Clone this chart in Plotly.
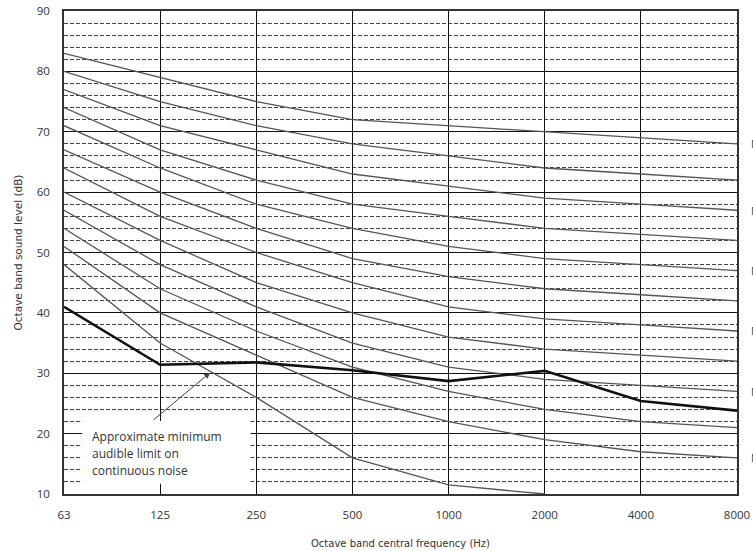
import plotly.graph_objects as go

freq_labels = ["63", "125", "250", "500", "1000", "2000", "4000", "8000"]

nc70 = [83, 79, 75, 72, 71, 70, 69, 68]
nc65 = [80, 75, 71, 68, 66, 64, 63, 62]
nc60 = [77, 71, 67, 63, 61, 59, 58, 57]
nc55 = [74, 67, 62, 58, 56, 54, 53, 52]
nc50 = [71, 64, 58, 54, 51, 49, 48, 47]
nc45 = [67, 60, 54, 49, 46, 44, 43, 42]
nc40 = [64, 56, 50, 45, 41, 39, 38, 37]
nc35 = [60, 52, 45, 40, 36, 34, 33, 32]
nc30 = [57, 48, 41, 35, 31, 29, 28, 27]
nc25 = [54, 44, 37, 31, 27, 24, 22, 21]
nc20 = [51, 40, 33, 26, 22, 19, 17, 16]
lowest = [48, 35, 26, 16, 11.5, 10]

audible_limit = [41, 31.4, 31.8, 30.5, 28.7, 30.4, 25.4, 23.8]

curve_labels = ["NC 70", "NC 60", "NC 50", "NC 40", "NC 30", "NC 20"]
curve_label_values = [nc70[-1], nc60[-1], nc50[-1], nc40[-1], nc30[-1], nc20[-1]]

curves = [nc70, nc65, nc60, nc55, nc50, nc45, nc40, nc35, nc30, nc25, nc20, lowest]

fig = go.Figure()
xi = list(range(len(freq_labels)))
for c in curves:
    fig.add_trace(go.Scatter(x=xi[:len(c)], y=c, mode="lines",
                             line=dict(color="#555555", width=1.3),
                             showlegend=False, hoverinfo="skip"))
fig.add_trace(go.Scatter(x=xi, y=audible_limit, mode="lines",
                         line=dict(color="#111111", width=2.6),
                         showlegend=False, hoverinfo="skip"))

# white box behind the note
fig.add_shape(type="rect", xref="x", yref="y", x0=0.19, x1=1.94, y0=11.7, y1=22.1,
              fillcolor="white", line=dict(width=0), layer="above")

note_lines = ["Approximate minimum", "audible limit on", "continuous noise"]
note_y = [19.47, 16.66, 13.84]
for t, yv in zip(note_lines, note_y):
    fig.add_annotation(x=0.27, y=yv, xref="x", yref="y", text=t, showarrow=False,
                       xanchor="left", yanchor="middle",
                       font=dict(family="Open Sans", size=12, color="#333333"))

fig.add_annotation(x=1.52, y=30.1, ax=0.917, ay=22.1, xref="x", yref="y",
                   axref="x", ayref="y", text="", showarrow=True, arrowhead=2,
                   arrowsize=1.2, arrowwidth=1, arrowcolor="#444444")

for lab, v in zip(curve_labels, curve_label_values):
    fig.add_annotation(x=1.0178, y=v, xref="paper", yref="y", text=lab, showarrow=False,
                       xanchor="left", yanchor="middle",
                       font=dict(family="Open Sans", size=11, color="#333333"))

fig.update_xaxes(range=[0, 7], tickmode="array", tickvals=xi, ticktext=freq_labels,
                 showgrid=True, gridcolor="#111111", gridwidth=1,
                 showline=True, linecolor="#333333", linewidth=1.5, mirror=True,
                 zeroline=False, ticks="", ticklabelstandoff=9, automargin=False,
                 tickfont=dict(family="Open Sans", size=11.5, color="#333333"),
                 title=dict(text="Octave band central frequency (Hz)",
                            font=dict(family="DejaVu Sans", size=10, color="#333333"),
                            standoff=19))
fig.update_yaxes(range=[10, 90], tickmode="linear", tick0=10, dtick=10,
                 showgrid=True, gridcolor="#111111", gridwidth=1,
                 minor=dict(dtick=2, tick0=10, showgrid=True, gridcolor="#444444",
                            gridwidth=1, griddash="4px,2px"),
                 showline=True, linecolor="#333333", linewidth=1.5, mirror=True,
                 zeroline=False, ticks="", ticklabelstandoff=10, automargin=False,
                 tickfont=dict(family="Open Sans", size=11.5, color="#333333"),
                 title=dict(text="Octave band sound level (dB)",
                            font=dict(family="DejaVu Sans", size=10.5, color="#333333"),
                            standoff=12))

fig.update_layout(width=753, height=551, margin=dict(l=64, r=16, t=11, b=57),
                  plot_bgcolor="white", paper_bgcolor="white")

fig.write_html("out.html", config={"displayModeBar": False},
               post_script="document.body.style.margin='0';document.body.style.overflow='hidden';")
